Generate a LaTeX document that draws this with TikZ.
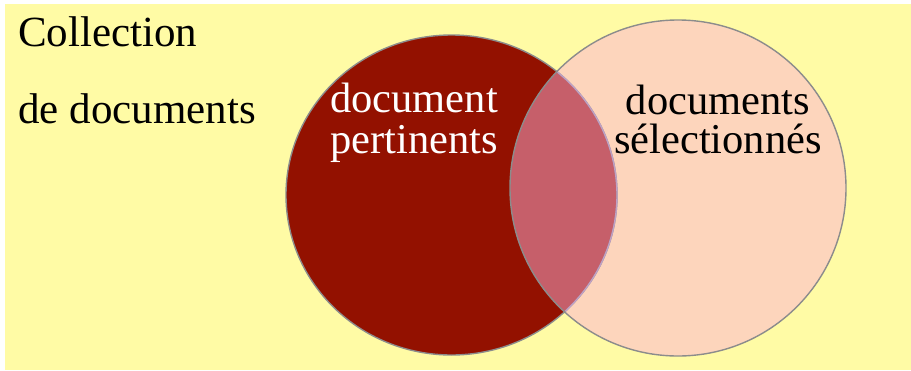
\documentclass[tikz,border=0pt]{standalone}
\usepackage{fontspec}
\setmainfont{Liberation Serif}
\definecolor{bgyellow}{RGB}{255,251,165}
\definecolor{darkred}{RGB}{147,17,0}
\definecolor{pinkfill}{RGB}{253,213,188}
\definecolor{overlap}{RGB}{198,95,106}
\definecolor{rimgray}{RGB}{140,140,140}
\definecolor{rimlight}{RGB}{192,160,196}
\begin{document}
\begin{tikzpicture}[x=1pt,y=-1pt,
  bigtext/.style={font=\fontsize{43}{43}\selectfont, inner sep=0pt, anchor=base west},
  circtext/.style={font=\fontsize{42.5}{42.5}\selectfont, inner sep=0pt, anchor=base},
  rim/.style={draw=rimgray, line width=1.4pt}]
\useasboundingbox (0,0) rectangle (911,370);
\fill[white] (0,0) rectangle (911,370);
\fill[bgyellow] (5,4) rectangle (911,370);
% circles
\fill[darkred] (451.5,195) ellipse [x radius=165.5, y radius=160];
\fill[pinkfill] (678,188) circle [radius=168];
\begin{scope}
  \clip (451.5,195) ellipse [x radius=165.5, y radius=160];
  \fill[overlap] (678,188) circle [radius=168];
\end{scope}
\draw[rim] (451.5,195) ellipse [x radius=165.5, y radius=160];
\draw[rim] (678,188) circle [radius=168];
\begin{scope}
  \clip (678,188) circle [radius=167];
  \draw[draw=rimlight, line width=1.4pt] (451.5,195) ellipse [x radius=165.5, y radius=160];
\end{scope}
% texts
\node[bigtext] (coll1) at (18,46.5) {Collection};
\node[bigtext] (coll2) at (18,123.5) {de documents};
\node[circtext, text=white] (pert1) at (414,112.5) {document};
\node[circtext, text=white] (pert2) at (414,153) {pertinents};
\node[circtext] (sel1) at (718,114) {documents};
\node[circtext] (sel2) at (718,153) {sélectionnés};
\end{tikzpicture}
\end{document}
